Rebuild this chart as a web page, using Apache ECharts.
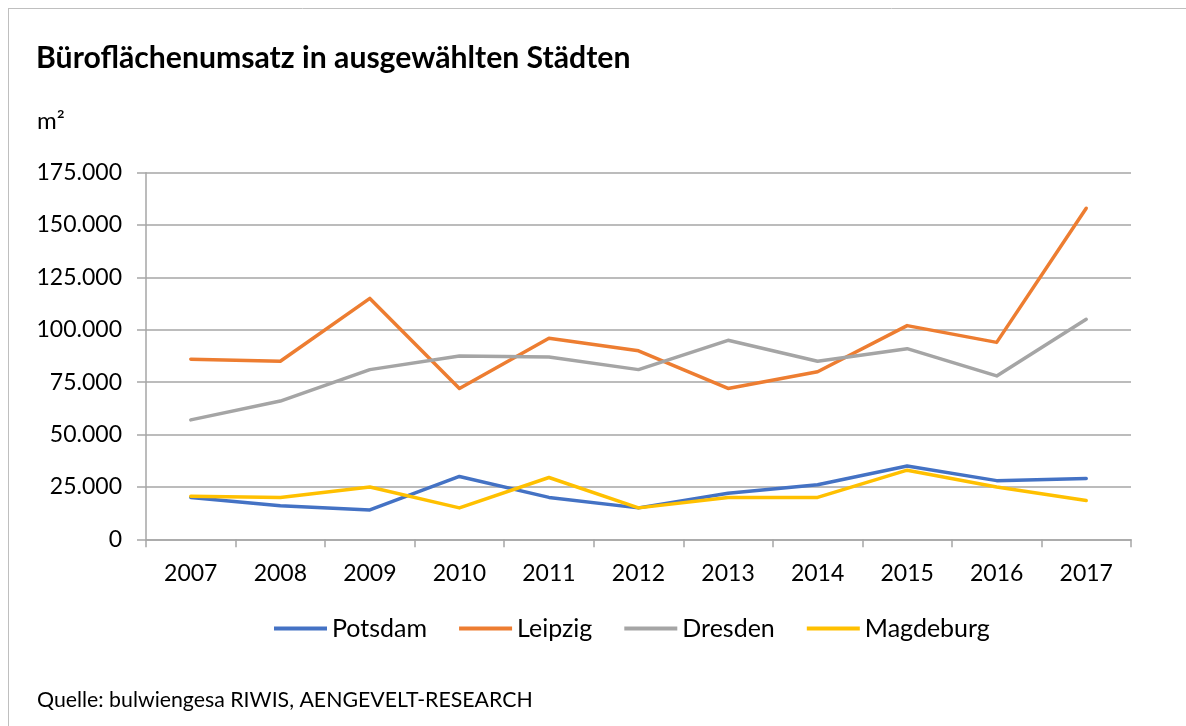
<!DOCTYPE html>
<html>
<head>
<meta charset="utf-8">
<script src="https://cdn.jsdelivr.net/npm/echarts@6/dist/echarts.min.js"></script>
<style>
  html, body { margin: 0; padding: 0; background: #ffffff; }
  #chart { width: 1186px; height: 726px; }
</style>
</head>
<body>
<div id="chart"></div>
<script>
// Years on the category axis
const years = ['2007', '2008', '2009', '2010', '2011', '2012', '2013', '2014', '2015', '2016', '2017'];

// Office space take-up per city, in m²
const potsdam   = [20000, 16000, 14000, 30000, 20000, 15000, 22000, 26000, 35000, 28000, 29000];
const leipzig   = [86000, 85000, 115000, 72000, 96000, 90000, 72000, 80000, 102000, 94000, 158000];
const dresden   = [57000, 66000, 81000, 87500, 87000, 81000, 95000, 85000, 91000, 78000, 105000];
const magdeburg = [20500, 20000, 25000, 15000, 29500, 15000, 20000, 20000, 33000, 25000, 18500];

const seriesNames  = ['Potsdam', 'Leipzig', 'Dresden', 'Magdeburg'];
const seriesData   = [potsdam, leipzig, dresden, magdeburg];
const seriesColors = ['#4472C4', '#ED7D31', '#A5A5A5', '#FFC000'];

const FONT = 'Lato, "Open Sans", sans-serif';
const AXIS_GRAY = '#a6a6a6';

// German thousands separator: 175000 -> "175.000"
function fmt(v) {
  return String(v).replace(/\B(?=(\d{3})+(?!\d))/g, '.');
}

const chart = echarts.init(document.getElementById('chart'), null, { renderer: 'canvas' });

chart.setOption({
  backgroundColor: '#ffffff',
  animation: false,
  color: seriesColors,
  graphic: [
    // frame lines along top and left edge
    { type: 'line', shape: { x1: 8, y1: 8.5, x2: 1186, y2: 8.5 }, style: { stroke: '#bfbfbf', lineWidth: 1 } },
    { type: 'line', shape: { x1: 8.5, y1: 8, x2: 8.5, y2: 726 }, style: { stroke: '#bfbfbf', lineWidth: 1 } },
    {
      type: 'text', left: 36, top: 43,
      style: { text: 'Büroflächenumsatz in ausgewählten Städten', font: 'bold 30.2px ' + FONT, fill: '#000000' }
    },
    {
      type: 'text', left: 37, top: 109,
      style: { text: 'm²', font: '24px ' + FONT, fill: '#000000' }
    },
    {
      type: 'text', left: 37, top: 690,
      style: { text: 'Quelle: bulwiengesa RIWIS, AENGEVELT-RESEARCH', font: '21.3px ' + FONT, fill: '#000000' }
    }
  ],
  legend: {
    data: seriesNames,
    top: 611,
    left: 269,
    itemWidth: 53,
    itemHeight: 4,
    itemGap: 32,
    icon: 'rect',
    textStyle: { fontFamily: FONT, fontSize: 25, color: '#000000' }
  },
  grid: { left: 146, right: 55, top: 172.7, bottom: 186.7, containLabel: false },
  xAxis: {
    type: 'category',
    data: years,
    boundaryGap: true,
    axisLine: { show: true, lineStyle: { color: AXIS_GRAY, width: 1.5 } },
    axisTick: { show: true, length: 8, alignWithLabel: false, lineStyle: { color: AXIS_GRAY, width: 1.5 } },
    axisLabel: { margin: 23, fontFamily: FONT, fontSize: 23, color: '#000000' },
    splitLine: { show: false }
  },
  yAxis: {
    type: 'value',
    min: 0,
    max: 175000,
    interval: 25000,
    axisLine: { show: true, lineStyle: { color: AXIS_GRAY, width: 1.5 } },
    axisTick: { show: true, length: 9, lineStyle: { color: AXIS_GRAY, width: 1.5 } },
    axisLabel: { margin: 24, fontFamily: FONT, fontSize: 23, color: '#000000', formatter: fmt },
    splitLine: { show: true, lineStyle: { color: AXIS_GRAY, width: 1.5 } }
  },
  series: seriesNames.map((name, i) => ({
    name: name,
    type: 'line',
    data: seriesData[i],
    symbol: 'none',
    lineStyle: { width: 3.5, color: seriesColors[i], cap: 'round', join: 'round' },
    itemStyle: { color: seriesColors[i] }
  }))
});
</script>
</body>
</html>
